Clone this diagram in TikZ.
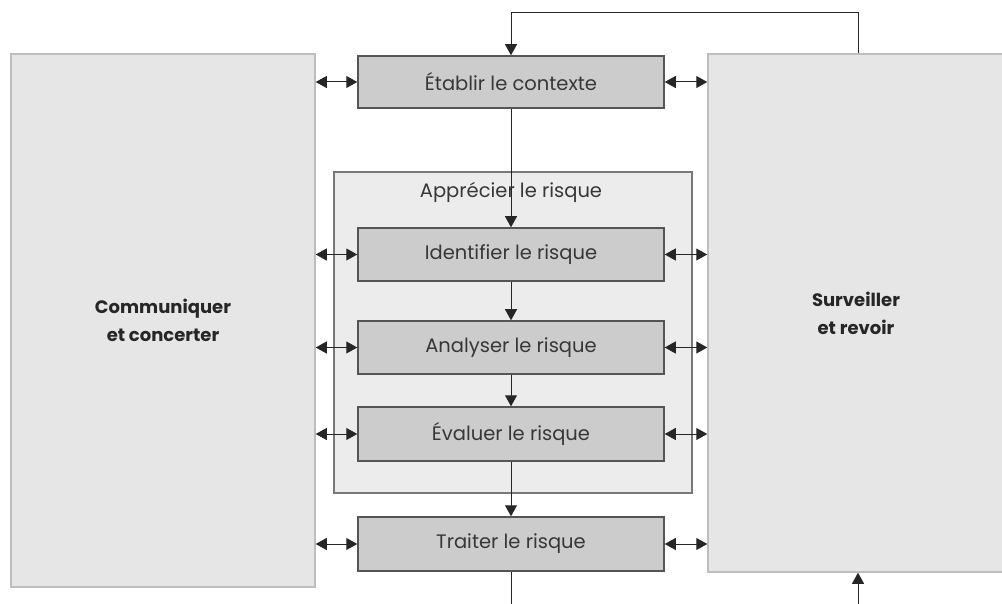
\documentclass[tikz,border=0pt]{standalone}
\usepackage{fontspec}
\setmainfont{Poppins}
\usetikzlibrary{arrows.meta}

\definecolor{sidefill}{RGB}{230,230,230}
\definecolor{sideline}{RGB}{190,190,190}
\definecolor{stepfill}{RGB}{204,204,204}
\definecolor{stepline}{RGB}{85,85,85}
\definecolor{groupfill}{RGB}{236,236,236}
\definecolor{groupline}{RGB}{120,120,120}
\definecolor{inktext}{RGB}{55,55,55}

\tikzset{
  sidebox/.style={draw=sideline, line width=1.5pt, fill=sidefill, align=center,
    font=\fontsize{18}{28}\selectfont\bfseries, text=black!85},
  stepbox/.style={draw=stepline, line width=1.5pt, fill=stepfill,
    minimum width=306pt, minimum height=52pt, inner sep=0pt,
    font=\fontsize{19.5}{22}\selectfont, text=inktext},
  flow/.style={draw=black!85, line width=1pt, -{Triangle[length=11pt,width=12pt]}},
  both/.style={draw=black!85, line width=1pt,
    {Triangle[length=11pt,width=12pt]}-{Triangle[length=11pt,width=12pt]}}
}

\begin{document}
\begin{tikzpicture}[x=1pt,y=1pt,yscale=-1]
\useasboundingbox (0,0) rectangle (1002,604);

% side boxes
    \node [sidebox, minimum width=304pt, minimum height=533pt] (comm) at (163,320.5) {Communiquer\\et concerter};
    \node [sidebox, minimum width=296pt, minimum height=518pt] (surv) at (856,313) {Surveiller\\et revoir};

% group frame
    \draw [groupline, line width=1.5pt, fill=groupfill] (334,172) rectangle (692,493);
    \node [font=\fontsize{19.5}{22}\selectfont, text=inktext] (appr) at (511,192) {Apprécier le risque};

% steps
    \node [stepbox] (etab) at (511,82) {Établir le contexte};
    \node [stepbox, minimum height=53pt] (iden) at (511,254.5) {Identifier le risque};
    \node [stepbox, minimum height=53pt] (anal) at (511,347.5) {Analyser le risque};
    \node [stepbox, minimum height=54pt] (eval) at (511,434) {Évaluer le risque};
    \node [stepbox, minimum height=54pt] (trai) at (511,544) {Traiter le risque};

% free ends
    \coordinate (fb) at (858,13);
    \coordinate (out) at (511,604);
    \coordinate (in) at (858,604);

% main chain
    \draw [flow] (etab.south) -- (iden.north);
    \draw [flow] (iden.south) -- (anal.north);
    \draw [flow] (anal.south) -- (eval.north);
    \draw [flow] (eval.south) -- (trai.north);
    \draw [draw=black!85, line width=1pt] (trai.south) -- (out);

% feedback loop
    \draw [flow] (surv.north -| fb) -- (fb) -| (etab.north);
    \draw [flow] (in) -- (surv.south -| in);

% exchanges with the side boxes
    \foreach \s in {etab,iden,anal,eval,trai}{
      \draw [both] (comm.east |- \s) -- (\s.west);
      \draw [both] (\s.east) -- (surv.west |- \s);
    }

\end{tikzpicture}
\end{document}
